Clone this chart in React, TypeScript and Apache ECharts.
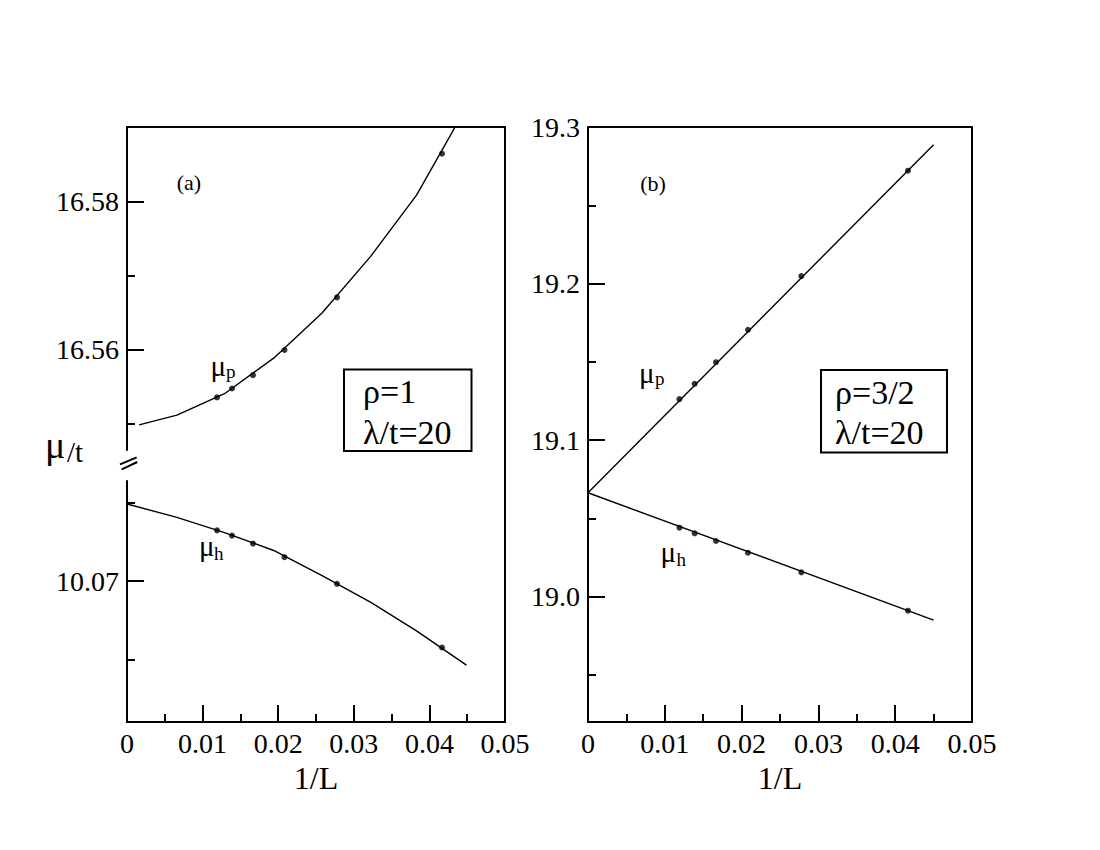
import React, { useEffect, useRef } from 'react';
import * as echarts from 'echarts';

const FONT = "'Liberation Serif', 'Times New Roman', Times, serif";

// System sizes L; data points are plotted at 1/L
const sizesL = [84, 72, 60, 48, 36, 24];

// Panel (a): rho = 1, lambda/t = 20
const muP_a = [16.5536, 16.5548, 16.5566, 16.56, 16.5671, 16.5865];
const muH_a = [10.07325, 10.07291, 10.0724, 10.07153, 10.06983, 10.06576];
const fitP_a_x = [0.0016, 0.0066, 0.0129, 0.0194, 0.0258, 0.0322, 0.0383, 0.0449];
const fitP_a_y = [16.5499, 16.5512, 16.5541, 16.5589, 16.565, 16.5726, 16.5809, 16.5928];
const fitH_a_x = [0, 0.0066, 0.0129, 0.0194, 0.0258, 0.0322, 0.0383, 0.0449];
const fitH_a_y = [10.07493, 10.07408, 10.0731, 10.07196, 10.07036, 10.06866, 10.06682, 10.06463];

// Panel (b): rho = 3/2, lambda/t = 20
const muP_b = [19.1262, 19.136, 19.1498, 19.1705, 19.2048, 19.2721];
const muH_b = [19.0441, 19.0405, 19.0356, 19.0281, 19.0156, 18.9911];
const fitP_b_x = [0, 0.045];
const fitP_b_y = [19.0664, 19.2887];
const fitH_b_x = [0, 0.045];
const fitH_b_y = [19.0664, 18.9851];

// Axis ticks
const xMajor = [0, 0.01, 0.02, 0.03, 0.04, 0.05];
const yA_upperMajor = [16.56, 16.58];
const yA_upperMinor = [16.55, 16.57];
const yA_lowerMajor = [10.07];
const yA_lowerMinor = [10.065, 10.075];
const yB_major = [19.0, 19.1, 19.2, 19.3];
const yB_minor = [18.95, 19.05, 19.15, 19.25];

const pairs = (xs: number[], ys: number[]) => xs.map((x, i) => [x, ys[i]]);
const invL = sizesL.map((L) => 1 / L);

const BLACK = '#000';
const lineS = { color: BLACK, width: 2 };

function xBottom(gridIndex: number) {
  return {
    type: 'value', gridIndex, position: 'bottom', min: xMajor[0], max: xMajor[xMajor.length - 1], interval: 0.01,
    axisLine: { show: true, onZero: false, lineStyle: lineS },
    axisTick: { show: true, inside: true, length: 17, lineStyle: lineS },
    minorTick: { show: true, splitNumber: 2, length: 8, lineStyle: lineS },
    axisLabel: {
      show: true, margin: 7, color: BLACK, fontSize: 28, fontFamily: FONT,
      formatter: (v: number) => (v === 0 ? '0' : v.toFixed(2)),
    },
    splitLine: { show: false }, minorSplitLine: { show: false },
    name: '1/L', nameLocation: 'middle', nameGap: 37,
    nameTextStyle: { color: BLACK, fontSize: 32, fontFamily: FONT },
  };
}
function xTopLine(gridIndex: number) {
  return {
    type: 'value', gridIndex, position: 'top', min: 0, max: 0.05,
    axisLine: { show: true, onZero: false, lineStyle: lineS },
    axisTick: { show: false }, axisLabel: { show: false }, splitLine: { show: false },
  };
}
function xHidden(gridIndex: number) {
  return { type: 'value', gridIndex, min: 0, max: 0.05, show: false };
}
function yRightLine(gridIndex: number) {
  return {
    type: 'value', gridIndex, position: 'right', min: 0, max: 1,
    axisLine: { show: true, onZero: false, lineStyle: lineS },
    axisTick: { show: false }, axisLabel: { show: false }, splitLine: { show: false },
  };
}
function yMajor(gridIndex: number, min: number, max: number, ticks: number[], digits: number) {
  return {
    type: 'value', gridIndex, position: 'left', min, max,
    axisLine: { show: true, onZero: false, lineStyle: lineS },
    axisTick: { show: true, inside: true, length: 17, lineStyle: lineS, customValues: ticks },
    axisLabel: {
      show: true, margin: 8, color: BLACK, fontSize: 28, fontFamily: FONT, customValues: ticks,
      formatter: (v: number) => v.toFixed(digits),
    },
    splitLine: { show: false },
  };
}
function yMinor(gridIndex: number, min: number, max: number, ticks: number[]) {
  return {
    type: 'value', gridIndex, position: 'left', min, max,
    axisLine: { show: false, onZero: false },
    axisTick: { show: true, inside: true, length: 8, lineStyle: lineS, customValues: ticks },
    axisLabel: { show: false, customValues: ticks },
    splitLine: { show: false },
  };
}

function lineSeries(x: number, y: number, data: number[][]) {
  return {
    type: 'line', xAxisIndex: x, yAxisIndex: y, data, symbol: 'none', clip: true,
    lineStyle: { color: BLACK, width: 1.4 }, silent: true,
  };
}
function dotSeries(x: number, y: number, data: number[][]) {
  return {
    type: 'scatter', xAxisIndex: x, yAxisIndex: y, data, symbol: 'circle', symbolSize: 6,
    itemStyle: { color: BLACK }, silent: true,
  };
}

function txt(text: string, x: number, y: number, fontSize: number, align = 'left') {
  return {
    type: 'text', silent: true,
    style: {
      text, x, y, fontSize, fontFamily: FONT, fill: BLACK,
      align, textAlign: align, verticalAlign: 'middle', textVerticalAlign: 'middle',
    },
  };
}

export default function App() {
  const ref = useRef<HTMLDivElement>(null);
  useEffect(() => {
    if (!ref.current) return;
    const chart = echarts.init(ref.current, undefined, { renderer: 'svg' });
    const A_UP_MIN = 16.5465, A_UP_MAX = 16.5901;
    const A_LO_MIN = 10.061, A_LO_MAX = 10.0764;
    const B_MIN = 18.92, B_MAX = 19.3;
    chart.setOption({
      animation: false,
      backgroundColor: '#fff',
      textStyle: { fontFamily: FONT },
      grid: [
        { left: 127, top: 127, width: 378, height: 595 },
        { left: 127, top: 127, width: 378, height: 323 },
        { left: 127, top: 481, width: 378, height: 241 },
        { left: 588, top: 127, width: 384, height: 595 },
      ],
      xAxis: [xBottom(0), xTopLine(0), xHidden(1), xHidden(2), xBottom(3), xTopLine(3)],
      yAxis: [
        yRightLine(0),
        yMajor(1, A_UP_MIN, A_UP_MAX, yA_upperMajor, 2),
        yMinor(1, A_UP_MIN, A_UP_MAX, yA_upperMinor),
        yMajor(2, A_LO_MIN, A_LO_MAX, yA_lowerMajor, 2),
        yMinor(2, A_LO_MIN, A_LO_MAX, yA_lowerMinor),
        yMajor(3, B_MIN, B_MAX, yB_major, 1),
        yMinor(3, B_MIN, B_MAX, yB_minor),
        yRightLine(3),
      ],
      series: [
        lineSeries(2, 1, pairs(fitP_a_x, fitP_a_y)),
        dotSeries(2, 1, pairs(invL, muP_a)),
        lineSeries(3, 3, pairs(fitH_a_x, fitH_a_y)),
        dotSeries(3, 3, pairs(invL, muH_a)),
        lineSeries(4, 5, pairs(fitP_b_x, fitP_b_y)),
        lineSeries(4, 5, pairs(fitH_b_x, fitH_b_y)),
        dotSeries(4, 5, pairs(invL, muP_b)),
        dotSeries(4, 5, pairs(invL, muH_b)),
      ],
      graphic: [
        // panel tags
        txt('(a)', 189, 182, 22, 'center'),
        txt('(b)', 653, 183, 22, 'center'),
        // y axis title mu/t
        txt('μ', 45, 445, 38),
        txt('/t', 67, 451.5, 29),
        // axis break marks
        { type: 'line', silent: true, shape: { x1: 120, y1: 464.3, x2: 136.7, y2: 457.3 }, style: { stroke: BLACK, lineWidth: 2 } },
        { type: 'line', silent: true, shape: { x1: 121.7, y1: 469.3, x2: 137.3, y2: 462 }, style: { stroke: BLACK, lineWidth: 2 } },
        // curve labels panel (a)
        txt('μ', 210.5, 366, 29), txt('p', 226, 371, 19),
        txt('μ', 199, 545.5, 29), txt('h', 214, 553, 19),
        // curve labels panel (b)
        txt('μ', 639, 372.5, 29), txt('p', 655, 378.5, 19),
        txt('μ', 660.5, 552, 29), txt('h', 676.5, 559, 19),
        // parameter boxes
        { type: 'rect', silent: true, shape: { x: 344, y: 369.5, width: 127.5, height: 81.5 }, style: { fill: 'none', stroke: BLACK, lineWidth: 2 } },
        txt('ρ=1', 363, 391.6, 34), txt('λ/t=20', 363, 432.3, 34),
        { type: 'rect', silent: true, shape: { x: 821, y: 370, width: 126, height: 82.5 }, style: { fill: 'none', stroke: BLACK, lineWidth: 2 } },
        txt('ρ=3/2', 835, 392, 34), txt('λ/t=20', 835, 432.6, 34),
      ],
    });
    return () => chart.dispose();
  }, []);
  return (
    <div
      ref={ref}
      style={{ position: 'absolute', left: 0, top: 0, width: 1100, height: 850, background: '#fff' }}
    />
  );
}
